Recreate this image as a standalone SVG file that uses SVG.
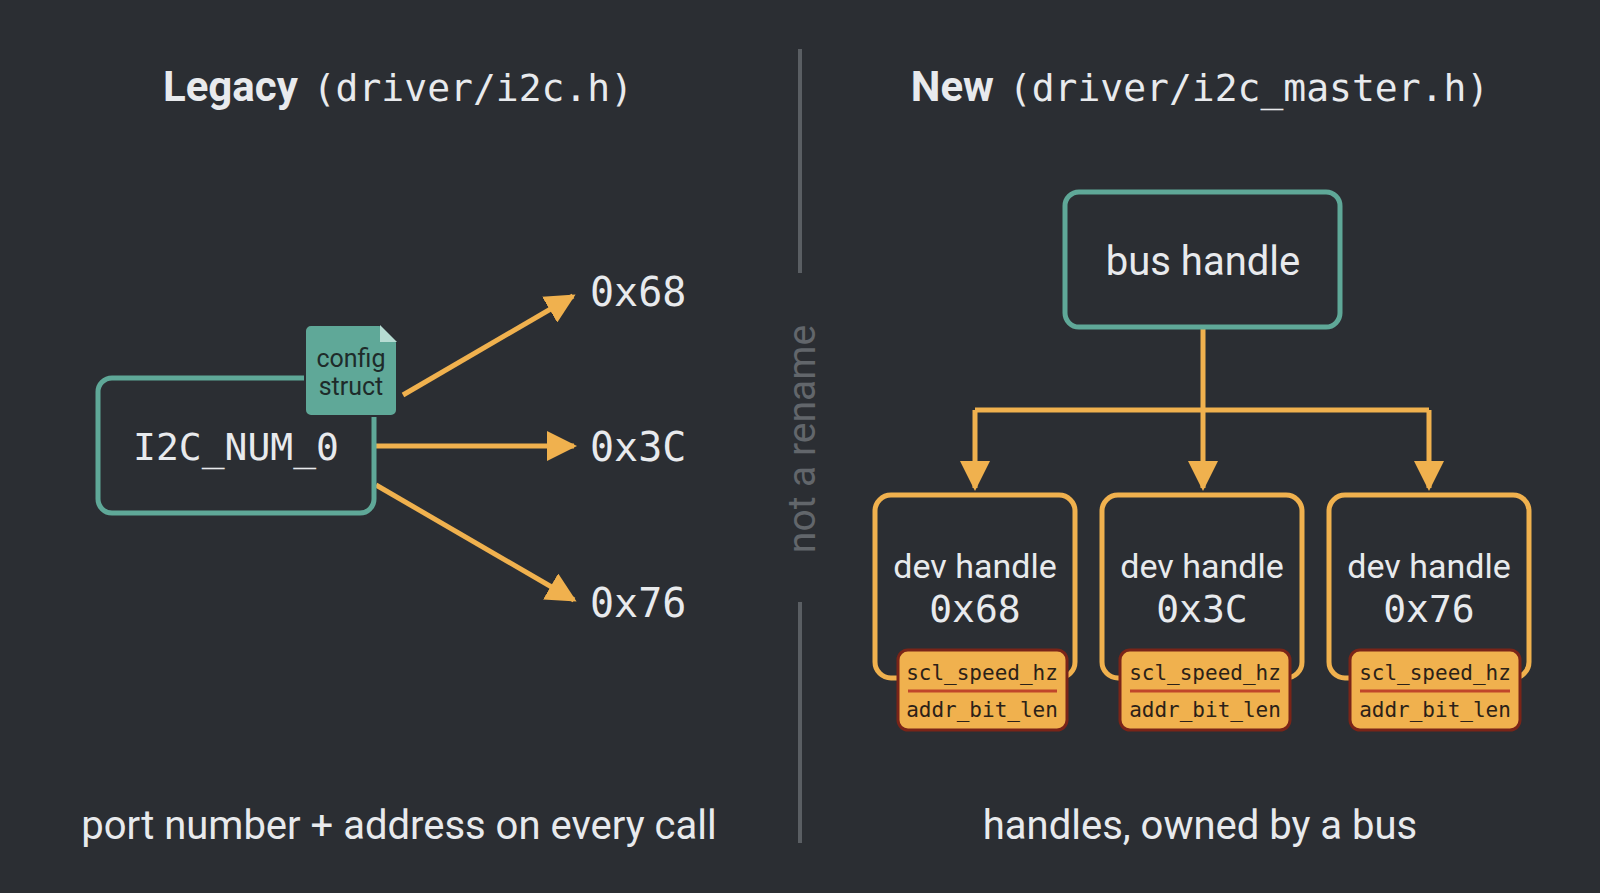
<svg xmlns="http://www.w3.org/2000/svg" width="1600" height="893" viewBox="0 0 1600 893">
<style>
.sans{font-family:Roboto,"Noto Sans","Liberation Sans",sans-serif;fill:#e8eaed}
.mono{font-family:"DejaVu Sans Mono","Liberation Mono",monospace;fill:#e8eaed}
.conn{stroke:#f0b14e;stroke-width:5;fill:none}
.dev{fill:none;stroke:#f0b14e;stroke-width:5}
.param{fill:#f0b14e;stroke:#7a2418;stroke-width:3}
.ptxt{font-family:"DejaVu Sans Mono","Liberation Mono",monospace;font-size:21px;fill:#2b2118;text-anchor:middle}
</style>
<defs>
<marker id="ah" viewBox="0 0 10 10" refX="9" refY="5" markerWidth="6" markerHeight="6" markerUnits="strokeWidth" orient="auto">
<path d="M0,0 L10,5 L0,10 z" fill="#f0b14e"/>
</marker>
</defs>
<rect width="1600" height="893" fill="#2b2e33"/>
<g id="titles">
<text x="398" y="101" class="sans" font-size="42" text-anchor="middle"><tspan font-weight="bold">Legacy</tspan><tspan class="mono" font-size="38" dx="-8"> (driver/i2c.h)</tspan></text>
<text x="1200" y="101" class="sans" font-size="42" text-anchor="middle"><tspan font-weight="bold">New</tspan><tspan class="mono" font-size="38" dx="-8"> (driver/i2c_master.h)</tspan></text>
</g>
<g id="divider">
<line x1="800" y1="49" x2="800" y2="273" stroke="#5a5e63" stroke-width="4"/>
<line x1="800" y1="602" x2="800" y2="843" stroke="#5a5e63" stroke-width="4"/>
<text x="0" y="0" transform="translate(815,439) rotate(-90)" font-family="Roboto,'Liberation Sans',sans-serif" font-size="39" fill="#62666b" text-anchor="middle">not a rename</text>
</g>
<g id="connectors">
<line class="conn" x1="403" y1="395" x2="573" y2="296" marker-end="url(#ah)"/>
<line class="conn" x1="376" y1="446" x2="574" y2="446" marker-end="url(#ah)"/>
<line class="conn" x1="376" y1="485" x2="574" y2="600" marker-end="url(#ah)"/>
<path class="conn" d="M1203,327 V410 M975,410 H1429"/>
<line class="conn" x1="975" y1="410" x2="975" y2="488" marker-end="url(#ah)"/>
<line class="conn" x1="1203" y1="410" x2="1203" y2="488" marker-end="url(#ah)"/>
<line class="conn" x1="1429" y1="410" x2="1429" y2="488" marker-end="url(#ah)"/>
</g>
<g id="i2c">
<rect x="98" y="378" width="276" height="135" rx="14" fill="none" stroke="#5fa898" stroke-width="5"/>
<text x="236" y="460" class="mono" font-size="38" text-anchor="middle">I2C_NUM_0</text>
</g>
<g id="config">
<path d="M311,325 H380 L397,342 V410 a6,6 0 0 1 -6,6 H311 a6,6 0 0 1 -6,-6 V331 a6,6 0 0 1 6,-6 z" fill="#5fa898" stroke="#2b2e33" stroke-width="2"/>
<path d="M380,325 V342 H397 z" fill="#b6dcd3"/>
<text x="351" y="367" font-family="Roboto,'Liberation Sans',sans-serif" font-size="25" fill="#1e2b2a" text-anchor="middle">config</text>
<text x="351" y="395" font-family="Roboto,'Liberation Sans',sans-serif" font-size="25" fill="#1e2b2a" text-anchor="middle">struct</text>
</g>
<g id="addrs">
<text x="590" y="306" class="mono" font-size="40">0x68</text>
<text x="590" y="461" class="mono" font-size="40">0x3C</text>
<text x="590" y="617" class="mono" font-size="40">0x76</text>
</g>
<g id="bus">
<rect x="1065" y="192" width="275" height="135" rx="14" fill="#2b2e33" stroke="#5fa898" stroke-width="5"/>
<text x="1203" y="275" class="sans" font-size="40" text-anchor="middle">bus handle</text>
</g>
<g id="dev1">
<rect class="dev" x="875" y="495" width="200" height="183" rx="16"/>
<text x="975" y="578" class="sans" font-size="34" text-anchor="middle">dev handle</text>
<text x="975" y="622" class="mono" font-size="38" text-anchor="middle">0x68</text>
<rect class="param" x="898" y="650" width="169" height="80" rx="10"/>
<line x1="908" y1="691" x2="1057" y2="691" stroke="#c0462a" stroke-width="3"/>
<text x="982" y="680" class="ptxt">scl_speed_hz</text>
<text x="982" y="717" class="ptxt">addr_bit_len</text>
</g>
<g id="dev2">
<rect class="dev" x="1102" y="495" width="200" height="183" rx="16"/>
<text x="1202" y="578" class="sans" font-size="34" text-anchor="middle">dev handle</text>
<text x="1202" y="622" class="mono" font-size="38" text-anchor="middle">0x3C</text>
<rect class="param" x="1120" y="650" width="170" height="80" rx="10"/>
<line x1="1130" y1="691" x2="1280" y2="691" stroke="#c0462a" stroke-width="3"/>
<text x="1205" y="680" class="ptxt">scl_speed_hz</text>
<text x="1205" y="717" class="ptxt">addr_bit_len</text>
</g>
<g id="dev3">
<rect class="dev" x="1329" y="495" width="200" height="183" rx="16"/>
<text x="1429" y="578" class="sans" font-size="34" text-anchor="middle">dev handle</text>
<text x="1429" y="622" class="mono" font-size="38" text-anchor="middle">0x76</text>
<rect class="param" x="1350" y="650" width="170" height="80" rx="10"/>
<line x1="1360" y1="691" x2="1510" y2="691" stroke="#c0462a" stroke-width="3"/>
<text x="1435" y="680" class="ptxt">scl_speed_hz</text>
<text x="1435" y="717" class="ptxt">addr_bit_len</text>
</g>
<g id="captions">
<text x="399" y="839" class="sans" font-size="40" text-anchor="middle">port number + address on every call</text>
<text x="1200" y="839" class="sans" font-size="40" text-anchor="middle">handles, owned by a bus</text>
</g>
</svg>
